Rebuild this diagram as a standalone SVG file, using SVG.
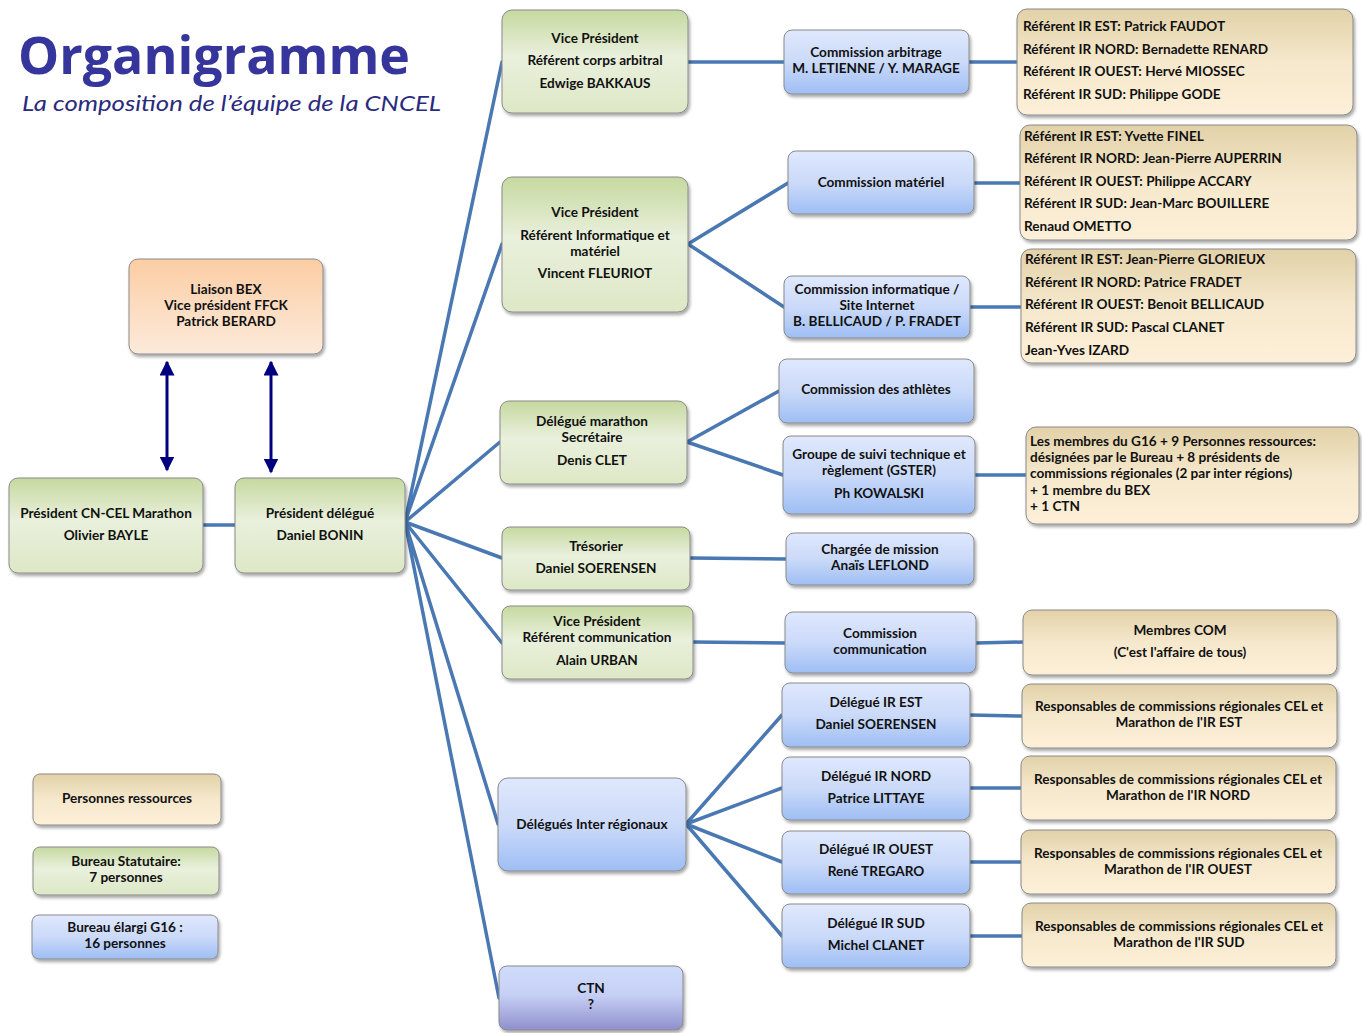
<svg xmlns="http://www.w3.org/2000/svg" width="1362" height="1033" viewBox="0 0 1362 1033">
<defs>
<linearGradient id="gGreen" x1="0" y1="0" x2="0" y2="1"><stop offset="0" stop-color="#c6d9a0"/><stop offset="0.45" stop-color="#e9f0dc"/><stop offset="1" stop-color="#dde8c6"/></linearGradient>
<linearGradient id="gBlue" x1="0" y1="0" x2="0" y2="1"><stop offset="0" stop-color="#dfe8fd"/><stop offset="0.5" stop-color="#cbdaf9"/><stop offset="1" stop-color="#9ebef4"/></linearGradient>
<linearGradient id="gTan" x1="0" y1="0" x2="0" y2="1"><stop offset="0" stop-color="#e2d1a8"/><stop offset="0.5" stop-color="#f5e8cc"/><stop offset="1" stop-color="#fdf0d8"/></linearGradient>
<linearGradient id="gOrange" x1="0" y1="0" x2="0" y2="1"><stop offset="0" stop-color="#fbcda3"/><stop offset="0.5" stop-color="#fcdcc0"/><stop offset="1" stop-color="#fdeadb"/></linearGradient>
<linearGradient id="gPurple" x1="0" y1="0" x2="0" y2="1"><stop offset="0" stop-color="#d0dcfb"/><stop offset="0.45" stop-color="#c6d0f5"/><stop offset="1" stop-color="#8f8fcc"/></linearGradient>
<filter id="sh" x="-10%" y="-10%" width="130%" height="140%"><feDropShadow dx="1.5" dy="2.5" stdDeviation="1.8" flood-color="#000" flood-opacity="0.35"/></filter>
<marker id="ah" viewBox="0 0 10 10" refX="9" refY="5" markerWidth="5" markerHeight="5" orient="auto-start-reverse" markerUnits="strokeWidth"><path d="M0,0 L10,5 L0,10 z" fill="#00007f"/></marker>
<style>
.box{stroke:#8a8a8a;stroke-width:1;filter:url(#sh)}
.g{fill:url(#gGreen)}.b{fill:url(#gBlue)}.t{fill:url(#gTan)}.o{fill:url(#gOrange)}.p{fill:url(#gPurple)}
text{font-family:Lato,"Open Sans","Liberation Sans",sans-serif;font-weight:bold;font-size:13.6px;fill:#111}
.c{text-anchor:middle}
.l{text-anchor:start}
.con{stroke:#4a78b2;stroke-width:3.5;fill:none;stroke-linecap:round}
.arr{stroke:#00007f;stroke-width:3;fill:none;marker-start:url(#ah);marker-end:url(#ah)}
</style>
</defs>
<rect width="1362" height="1033" fill="#fff"/>

<g id="title">
<text x="18" y="74" style="font-size:52px;fill:#35359b;font-family:'Open Sans',Lato,sans-serif" textLength="392" lengthAdjust="spacingAndGlyphs">Organigramme</text>
<text x="22" y="111" style="font-size:22px;font-weight:normal;font-style:italic;fill:#2a2a7e" textLength="419" lengthAdjust="spacingAndGlyphs">La composition de l’équipe de la CNCEL</text>
</g>

<g id="connectors">
<path class="con" d="M405,522 L502,62 M405,522 L502,244 M405,522 L500,442 M405,522 L502,558 M405,522 L502,643 M405,522 L498,824 M405,522 L499,998"/>
<path class="con" d="M203,525 L235,525"/>
<path class="con" d="M688,62 L784,62 M969,62 L1017,62"/>
<path class="con" d="M688,244 L788,183 M688,244 L784,307 M974,183 L1020,183 M970,307 L1021,307"/>
<path class="con" d="M687,442 L779,391 M687,442 L783,475 M975,475 L1026,475"/>
<path class="con" d="M690,558 L786,559"/>
<path class="con" d="M693,642 L785,643 M976,643 L1023,642"/>
<path class="con" d="M686,824 L782,715 M686,824 L782,788 M686,824 L782,862 M686,824 L782,936"/>
<path class="con" d="M970,715 L1022,716 M970,788 L1021,788 M970,862 L1021,862 M970,936 L1022,936"/>
<line class="arr" x1="167" y1="362" x2="167" y2="470"/>
<line class="arr" x1="271" y1="362" x2="271" y2="472"/>
</g>

<g id="liaison-bex"><rect class="box o" x="129" y="259" width="194" height="95" rx="9"/>
<text class="c" x="226" y="294">Liaison BEX</text><text class="c" x="226" y="310">Vice président FFCK</text><text class="c" x="226" y="326">Patrick BERARD</text></g>

<g id="president"><rect class="box g" x="9" y="478" width="194" height="95" rx="9"/>
<text class="c" x="106" y="518">Président CN-CEL Marathon</text><text class="c" x="106" y="540">Olivier BAYLE</text></g>

<g id="president-delegue"><rect class="box g" x="235" y="478" width="170" height="95" rx="9"/>
<text class="c" x="320" y="518">Président délégué</text><text class="c" x="320" y="540">Daniel BONIN</text></g>

<g id="legend-ressources"><rect class="box t" x="33" y="774" width="188" height="51" rx="7"/>
<text class="c" x="127" y="803">Personnes ressources</text></g>
<g id="legend-statutaire"><rect class="box g" x="33" y="847" width="186" height="48" rx="7"/>
<text class="c" x="126" y="866">Bureau Statutaire:</text><text class="c" x="126" y="882">7 personnes</text></g>
<g id="legend-g16"><rect class="box b" x="32" y="915" width="186" height="44" rx="7"/>
<text class="c" x="125" y="932">Bureau élargi G16 :</text><text class="c" x="125" y="948">16 personnes</text></g>

<g id="vp-arbitrage"><rect class="box g" x="502" y="10" width="186" height="103" rx="10"/>
<text class="c" x="595" y="43">Vice Président</text><text class="c" x="595" y="65">Référent corps arbitral</text><text class="c" x="595" y="88">Edwige BAKKAUS</text></g>

<g id="vp-informatique"><rect class="box g" x="502" y="177" width="186" height="135" rx="10"/>
<text class="c" x="595" y="217">Vice Président</text><text class="c" x="595" y="240">Référent Informatique et</text><text class="c" x="595" y="256">matériel</text><text class="c" x="595" y="278">Vincent FLEURIOT</text></g>

<g id="delegue-marathon"><rect class="box g" x="500" y="401" width="187" height="83" rx="9"/>
<text class="c" x="592" y="426">Délégué marathon</text><text class="c" x="592" y="442">Secrétaire</text><text class="c" x="592" y="465">Denis CLET</text></g>

<g id="tresorier"><rect class="box g" x="502" y="527" width="188" height="63" rx="8"/>
<text class="c" x="596" y="551">Trésorier</text><text class="c" x="596" y="573">Daniel SOERENSEN</text></g>

<g id="vp-communication"><rect class="box g" x="502" y="606" width="191" height="73" rx="8"/>
<text class="c" x="597" y="626">Vice Président</text><text class="c" x="597" y="642">Référent communication</text><text class="c" x="597" y="665">Alain URBAN</text></g>

<g id="delegues-ir"><rect class="box b" x="498" y="778" width="188" height="93" rx="10"/>
<text class="c" x="592" y="829">Délégués Inter régionaux</text></g>

<g id="ctn"><rect class="box p" x="499" y="966" width="184" height="64" rx="8"/>
<text class="c" x="591" y="993">CTN</text><text class="c" x="591" y="1009">?</text></g>

<g id="comm-arbitrage"><rect class="box b" x="784" y="30" width="185" height="64" rx="8"/>
<text class="c" x="876" y="57">Commission arbitrage</text><text class="c" x="876" y="73">M. LETIENNE / Y. MARAGE</text></g>

<g id="comm-materiel"><rect class="box b" x="788" y="151" width="186" height="63" rx="8"/>
<text class="c" x="881" y="187">Commission matériel</text></g>

<g id="comm-informatique"><rect class="box b" x="784" y="276" width="186" height="62" rx="8"/>
<text class="c" x="877" y="294">Commission informatique /</text><text class="c" x="877" y="310">Site Internet</text><text class="c" x="877" y="326">B. BELLICAUD / P. FRADET</text></g>

<g id="comm-athletes"><rect class="box b" x="779" y="359" width="195" height="64" rx="8"/>
<text class="c" x="876" y="394">Commission des athlètes</text></g>

<g id="gster"><rect class="box b" x="783" y="436" width="192" height="78" rx="8"/>
<text class="c" x="879" y="459">Groupe de suivi technique et</text><text class="c" x="879" y="475">règlement  (GSTER)</text><text class="c" x="879" y="498">Ph KOWALSKI</text></g>

<g id="chargee-mission"><rect class="box b" x="786" y="533" width="188" height="52" rx="8"/>
<text class="c" x="880" y="554">Chargée de mission</text><text class="c" x="880" y="570">Anaïs LEFLOND</text></g>

<g id="comm-communication"><rect class="box b" x="785" y="612" width="191" height="61" rx="8"/>
<text class="c" x="880" y="638">Commission</text><text class="c" x="880" y="654">communication</text></g>

<g id="ir-est"><rect class="box b" x="782" y="683" width="188" height="64" rx="8"/>
<text class="c" x="876" y="707">Délégué IR EST</text><text class="c" x="876" y="729">Daniel SOERENSEN</text></g>
<g id="ir-nord"><rect class="box b" x="782" y="757" width="188" height="63" rx="8"/>
<text class="c" x="876" y="781">Délégué IR NORD</text><text class="c" x="876" y="803">Patrice LITTAYE</text></g>
<g id="ir-ouest"><rect class="box b" x="782" y="831" width="188" height="63" rx="8"/>
<text class="c" x="876" y="854">Délégué IR OUEST</text><text class="c" x="876" y="876">René TREGARO</text></g>
<g id="ir-sud"><rect class="box b" x="782" y="904" width="188" height="64" rx="8"/>
<text class="c" x="876" y="928">Délégué IR SUD</text><text class="c" x="876" y="950">Michel CLANET</text></g>

<g id="referents-arbitrage"><rect class="box t" x="1017" y="9" width="336" height="106" rx="10"/>
<text class="l" x="1023" y="31">Référent IR EST: Patrick FAUDOT</text>
<text class="l" x="1023" y="54">Référent IR NORD: Bernadette RENARD</text>
<text class="l" x="1023" y="76">Référent IR OUEST: Hervé MIOSSEC</text>
<text class="l" x="1023" y="99">Référent IR SUD: Philippe GODE</text></g>

<g id="referents-materiel"><rect class="box t" x="1020" y="125" width="337" height="115" rx="10"/>
<text class="l" x="1024" y="141">Référent IR EST: Yvette FINEL</text>
<text class="l" x="1024" y="163">Référent IR NORD: Jean-Pierre AUPERRIN</text>
<text class="l" x="1024" y="186">Référent IR OUEST: Philippe ACCARY</text>
<text class="l" x="1024" y="208">Référent IR SUD: Jean-Marc BOUILLERE</text>
<text class="l" x="1024" y="231">Renaud OMETTO</text></g>

<g id="referents-informatique"><rect class="box t" x="1021" y="249" width="335" height="114" rx="10"/>
<text class="l" x="1025" y="264">Référent IR EST: Jean-Pierre GLORIEUX</text>
<text class="l" x="1025" y="287">Référent IR NORD: Patrice FRADET</text>
<text class="l" x="1025" y="309">Référent IR OUEST: Benoit BELLICAUD</text>
<text class="l" x="1025" y="332">Référent IR SUD: Pascal CLANET</text>
<text class="l" x="1025" y="355">Jean-Yves IZARD</text></g>

<g id="membres-g16"><rect class="box t" x="1026" y="427" width="333" height="97" rx="10"/>
<text class="l" x="1030" y="446">Les membres du G16 + 9 Personnes ressources:</text>
<text class="l" x="1030" y="462">désignées par le Bureau + 8 présidents de</text>
<text class="l" x="1030" y="478">commissions régionales (2 par inter régions)</text>
<text class="l" x="1030" y="495">+ 1 membre du BEX</text>
<text class="l" x="1030" y="511">+ 1 CTN</text></g>

<g id="membres-com"><rect class="box t" x="1023" y="610" width="314" height="65" rx="9"/>
<text class="c" x="1180" y="635">Membres COM</text><text class="c" x="1180" y="657">(C'est l'affaire de tous)</text></g>

<g id="resp-est"><rect class="box t" x="1022" y="684" width="315" height="64" rx="9"/>
<text class="c" x="1179" y="711">Responsables de commissions régionales CEL et</text><text class="c" x="1179" y="727">Marathon de l'IR EST</text></g>
<g id="resp-nord"><rect class="box t" x="1021" y="756" width="315" height="64" rx="9"/>
<text class="c" x="1178" y="784">Responsables de commissions régionales CEL et</text><text class="c" x="1178" y="800">Marathon de l'IR NORD</text></g>
<g id="resp-ouest"><rect class="box t" x="1021" y="830" width="315" height="64" rx="9"/>
<text class="c" x="1178" y="858">Responsables de commissions régionales CEL et</text><text class="c" x="1178" y="874">Marathon de l'IR OUEST</text></g>
<g id="resp-sud"><rect class="box t" x="1022" y="903" width="314" height="64" rx="9"/>
<text class="c" x="1179" y="931">Responsables de commissions régionales CEL et</text><text class="c" x="1179" y="947">Marathon de l'IR SUD</text></g>
</svg>
